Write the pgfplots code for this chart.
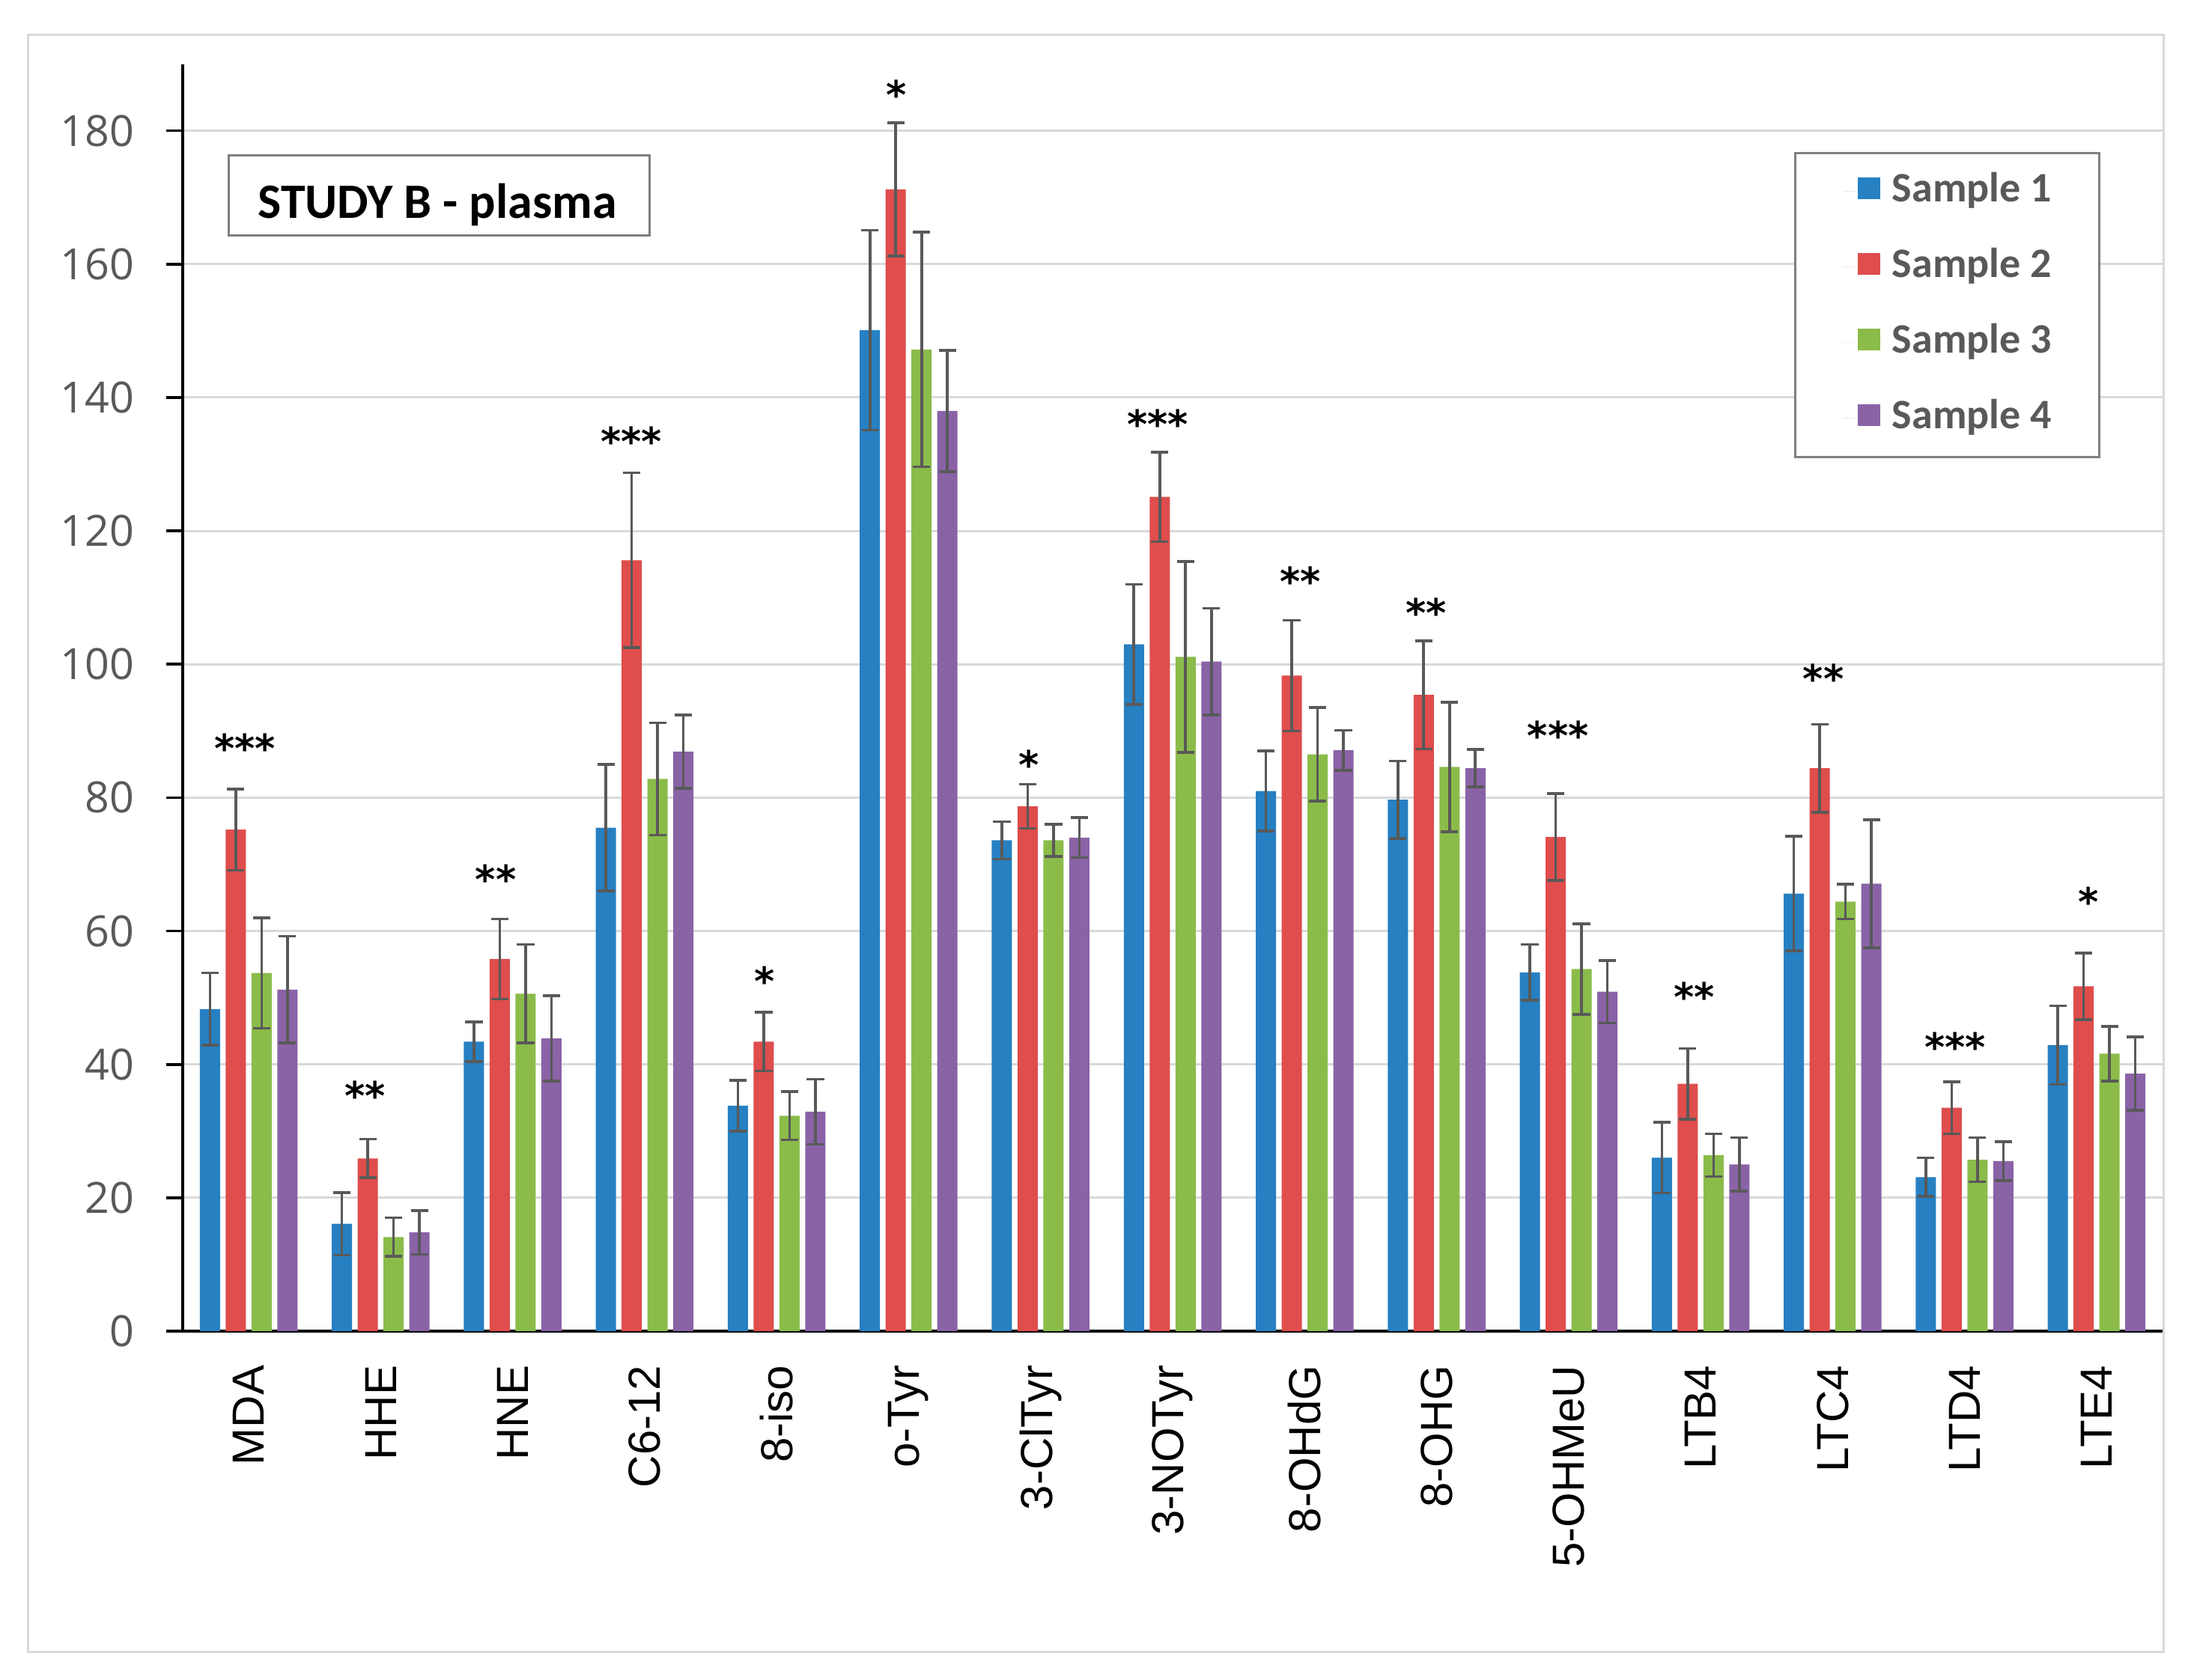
\documentclass[border=0pt]{standalone}
\usepackage{fontspec}
\usepackage{pgfplots}
\usepackage{pgfplotstable}
\pgfplotsset{compat=1.18}
\setmainfont{Carlito}
\newfontfamily\carlito{Carlito}
\newfontfamily\libsans{Liberation Sans}
\newfontfamily\opensans{Open Sans}
\newfontfamily\dejavu{DejaVu Sans}
\definecolor{cA}{HTML}{2680C2}
\definecolor{cB}{HTML}{DF4D4C}
\definecolor{cC}{HTML}{8BBC4A}
\definecolor{cD}{HTML}{8A63A7}
\definecolor{errgray}{HTML}{595959}
\definecolor{tickgray}{HTML}{595959}
\definecolor{gridgray}{HTML}{D9D9D9}
\definecolor{framegray}{HTML}{D9D9D9}
\definecolor{boxgray}{HTML}{7F7F7F}

\pgfplotstableread{
x s1 e1 s2 e2 s3 e3 s4 e4
0 48.3 5.4 75.2 6.1 53.7 8.3 51.2 8.0
1 16.1 4.7 25.9 2.9 14.1 2.9 14.8 3.3
2 43.4 3.0 55.8 6.0 50.6 7.4 43.9 6.4
3 75.5 9.5 115.6 13.1 82.8 8.4 86.9 5.5
4 33.8 3.8 43.4 4.4 32.3 3.6 32.9 4.9
5 150.1 15.0 171.2 10.0 147.2 17.6 138.0 9.1
6 73.6 2.8 78.7 3.3 73.6 2.4 74.0 3.0
7 103.0 9.0 125.1 6.7 101.1 14.3 100.4 8.0
8 81.0 6.0 98.3 8.3 86.5 7.0 87.1 3.0
9 79.7 5.8 95.4 8.1 84.6 9.7 84.4 2.8
10 53.8 4.2 74.1 6.5 54.3 6.8 50.9 4.7
11 26.0 5.3 37.1 5.3 26.4 3.2 25.0 4.0
12 65.6 8.6 84.4 6.6 64.4 2.6 67.1 9.6
13 23.1 2.9 33.5 3.9 25.7 3.3 25.5 2.9
14 42.9 5.9 51.7 5.0 41.6 4.1 38.6 5.5
}\datatab

\pgfplotstableread{
x y lab
-0.028 88.7 ***
0.881 36.5 **
1.872 69.0 **
2.900 134.7 ***
3.906 53.7 *
4.909 186.6 *
5.911 86.2 *
6.886 137.3 ***
7.966 113.7 **
8.920 109.0 **
9.920 90.5 ***
10.950 51.4 **
11.930 99.1 **
12.930 43.9 ***
13.940 65.6 *
}\startab

\pgfplotsset{
  sqlegend/.style={legend image code/.code={%
    \path (0pt,0pt) -- (5pt,0pt);
    \fill[##1] (5pt,-2.6pt) rectangle (12.35pt,4.75pt);}},
  common/.style={
    at={(61pt,116.25pt)}, anchor=south west,
    scale only axis, width=661pt, height=423.1pt,
    xmin=-0.5, xmax=14.5, ymin=0, ymax=190},
}

\begin{document}
\begin{tikzpicture}
\useasboundingbox (0,0) rectangle (731.5pt,560.75pt);
\fill[white] (0,0) rectangle (731.5pt,560.75pt);
\draw[framegray, line width=0.75pt] (9.25pt,9.25pt) rectangle (722.25pt,549pt);
\begin{axis}[
  common,
  ybar=1.875pt, bar width=6.75pt,
  axis x line=bottom, axis y line=left,
  axis line style={-, line width=0.9pt, black},
  xtick={0,...,14},
  xticklabels={MDA,HHE,HNE,C6-12,8-iso,o-Tyr,3-ClTyr,3-NOTyr,8-OHdG,8-OHG,5-OHMeU,LTB4,LTC4,LTD4,LTE4},
  xtick style={draw=none},
  xticklabel style={yshift=-5.75pt, rotate=90, anchor=east, inner sep=0pt,
    font=\libsans\fontsize{15}{18}\selectfont, text=black},
  ytick={0,20,...,180},
  ytick style={black, line width=0.9pt},
  tick align=outside, major tick length=5.5pt,
  yticklabel style={anchor=east, inner sep=0pt, xshift=-10.5pt,
    font=\opensans\fontsize{14.35}{17}\selectfont, text=tickgray},
  /pgf/number format/assume math mode=true,
  ymajorgrids, grid style={draw=gridgray, line width=0.75pt},
  error bars/y dir=both, error bars/y explicit,
  error bars/error bar style={draw=errgray, line width=0.9pt},
  error bars/error mark options={rotate=90, draw=errgray, line width=0.9pt, mark size=2.9pt},
  legend cell align=left,
  legend style={at={(axis description cs:0.8139,0.9306)}, anchor=north west,
    draw=boxgray, line width=0.75pt, fill=white,
    inner xsep=16pt, inner ysep=6.8pt, row sep=13.15pt,
    nodes={inner sep=0pt, text height=9.4pt, text depth=2.7pt,
      font=\carlito\bfseries\fontsize{14}{16}\selectfont, text=tickgray},
    /tikz/every odd column/.append style={column sep=4pt}},
]
\addplot[fill=cA, draw=none, sqlegend] table[x=x, y=s1, y error=e1] {\datatab};
\addlegendentry{Sample 1}
\addplot[fill=cB, draw=none, sqlegend] table[x=x, y=s2, y error=e2] {\datatab};
\addlegendentry{Sample 2}
\addplot[fill=cC, draw=none, sqlegend] table[x=x, y=s3, y error=e3] {\datatab};
\addlegendentry{Sample 3}
\addplot[fill=cD, draw=none, sqlegend] table[x=x, y=s4, y error=e4] {\datatab};
\addlegendentry{Sample 4}
\end{axis}
\begin{axis}[common, hide axis]
\addplot[only marks, mark=*, mark size=0pt, mark options={draw=none, fill=none},
  nodes near coords, point meta=explicit symbolic,
  nodes near coords style={anchor=center, inner sep=0pt, yshift=-2.7pt,
    font=\dejavu\bfseries\fontsize{13}{15}\selectfont, text=black}]
  table[x=x, y=y, meta=lab] {\startab};
\end{axis}
\draw[boxgray, line width=0.75pt, fill=white] (76.25pt,482pt) rectangle (216.75pt,508.75pt);
\node[anchor=base, inner sep=0pt, font=\carlito\bfseries\fontsize{16.5}{19}\selectfont] at (146pt,487.8pt) {STUDY B - plasma};
\end{tikzpicture}
\end{document}
